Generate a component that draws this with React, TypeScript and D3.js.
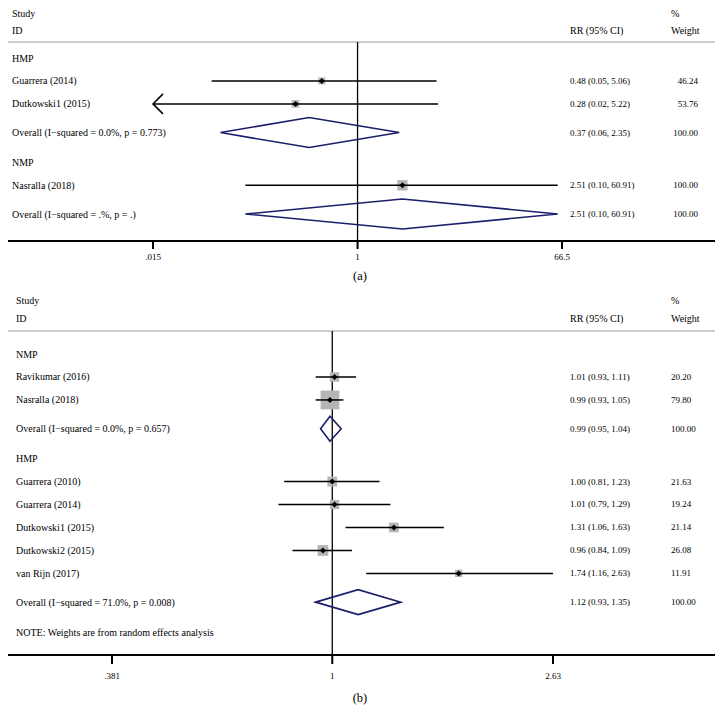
import React from "react";
import * as d3 from "d3";

// ---------- Panel (a) data ----------
const labelsA = [
  "HMP",
  "Guarrera (2014)",
  "Dutkowski1 (2015)",
  "Overall (I\u2212squared = 0.0%, p = 0.773)",
  "NMP",
  "Nasralla (2018)",
  "Overall (I\u2212squared = .%, p = .)",
];
const typesA = ["group", "study", "study", "overall", "group", "study", "overall"];
const estA = [null, 0.48, 0.28, 0.37, null, 2.51, 2.51];
const lowA = [null, 0.05, 0.015, 0.06, null, 0.1, 0.1];
const highA = [null, 5.06, 5.22, 2.35, null, 60.91, 60.91];
const ciTextA = [
  "",
  "0.48 (0.05, 5.06)",
  "0.28 (0.02, 5.22)",
  "0.37 (0.06, 2.35)",
  "",
  "2.51 (0.10, 60.91)",
  "2.51 (0.10, 60.91)",
];
const weightA = [null, 46.24, 53.76, 100.0, null, 100.0, 100.0];
const tickValsA = [0.015, 1, 66.5];
const tickLabelsA = [".015", "1", "66.5"];

// ---------- Panel (b) data ----------
const labelsB = [
  "NMP",
  "Ravikumar (2016)",
  "Nasralla (2018)",
  "Overall (I\u2212squared = 0.0%, p = 0.657)",
  "HMP",
  "Guarrera (2010)",
  "Guarrera (2014)",
  "Dutkowski1 (2015)",
  "Dutkowski2 (2015)",
  "van Rijn (2017)",
  "Overall (I\u2212squared = 71.0%, p = 0.008)",
  "NOTE: Weights are from random effects analysis",
];
const typesB = [
  "group", "study", "study", "overall", "group", "study", "study", "study", "study", "study", "overall", "note",
];
const estB = [null, 1.01, 0.99, 0.99, null, 1.0, 1.01, 1.31, 0.96, 1.74, 1.12, null];
const lowB = [null, 0.93, 0.93, 0.95, null, 0.81, 0.79, 1.06, 0.84, 1.16, 0.93, null];
const highB = [null, 1.11, 1.05, 1.04, null, 1.23, 1.29, 1.63, 1.09, 2.63, 1.35, null];
const ciTextB = [
  "",
  "1.01 (0.93, 1.11)",
  "0.99 (0.93, 1.05)",
  "0.99 (0.95, 1.04)",
  "",
  "1.00 (0.81, 1.23)",
  "1.01 (0.79, 1.29)",
  "1.31 (1.06, 1.63)",
  "0.96 (0.84, 1.09)",
  "1.74 (1.16, 2.63)",
  "1.12 (0.93, 1.35)",
  "",
];
const weightB = [null, 20.2, 79.8, 100.0, null, 21.63, 19.24, 21.14, 26.08, 11.91, 100.0, null];
const tickValsB = [0.381, 1, 2.63];
const tickLabelsB = [".381", "1", "2.63"];

const SERIF = "'Liberation Serif', 'Times New Roman', serif";
const NAVY = "#1b1f6b";
const BOX = "#b5b5b5";

type PanelCfg = {
  labels: string[];
  types: string[];
  est: (number | null)[];
  low: (number | null)[];
  high: (number | null)[];
  ciText: string[];
  weight: (number | null)[];
  tickVals: number[];
  tickLabels: string[];
  title: string;
  headerStudyY: number;
  headerIdY: number;
  headerLineY: number;
  firstRowY: number;
  lastRowY: number;
  axisY: number;
  tickLen: number;
  tickLabelDy: number;
  titleDy: number;
  labelX: number;
  xRange: [number, number];
  weightX: number;
  weightAnchor: "start" | "end";
  boxK: number;
  diamondHalf: number;
};

function Panel(p: PanelCfg) {
  const x = d3
    .scaleLog()
    .domain([p.tickVals[0], p.tickVals[p.tickVals.length - 1]])
    .range(p.xRange);
  const [dmin] = x.domain();

  // row units: extra spacing around overall rows
  const units: number[] = [];
  p.types.forEach((t, i) => {
    if (i === 0) units.push(0);
    else {
      const gap = t === "overall" ? 1.25 : p.types[i - 1] === "overall" ? 1.3 : 1;
      units.push(units[i - 1] + gap);
    }
  });
  const y = d3
    .scaleLinear()
    .domain([0, units[units.length - 1]])
    .range([p.firstRowY, p.lastRowY]);

  const axisLeft = 8;
  const axisRight = 715;
  const rrX = 570;
  const x1 = x(1);

  return (
    <g>
      {/* headers */}
      <text x={p.labelX} y={p.headerStudyY} fontSize={10} dominantBaseline="central">Study</text>
      <text x={p.labelX} y={p.headerIdY} fontSize={10} dominantBaseline="central">ID</text>
      <text x={rrX} y={p.headerIdY} fontSize={10} dominantBaseline="central">RR (95% CI)</text>
      <text x={671} y={p.headerStudyY} fontSize={10} dominantBaseline="central">%</text>
      <text x={671} y={p.headerIdY} fontSize={10} dominantBaseline="central">Weight</text>
      <line x1={axisLeft} x2={axisRight} y1={p.headerLineY} y2={p.headerLineY} stroke="#bdbdbd" strokeWidth={1.6} />

      {/* null line */}
      <line x1={x1} x2={x1} y1={p.headerLineY} y2={p.axisY} stroke="#000" strokeWidth={1.3} />

      {/* rows */}
      {p.labels.map((lab, i) => {
        const yy = y(units[i]);
        const t = p.types[i];
        const e = p.est[i];
        const lo = p.low[i];
        const hi = p.high[i];
        const w = p.weight[i];
        const items: React.ReactNode[] = [];
        items.push(
          <text key="l" x={p.labelX} y={yy} fontSize={10} dominantBaseline="central">{lab}</text>
        );
        if (t === "study" && e != null && lo != null && hi != null && w != null) {
          const s = p.boxK * Math.sqrt(w);
          const xl = x(Math.max(lo, dmin));
          const xh = x(hi);
          const xe = x(e);
          items.push(
            <rect key="b" x={xe - s / 2} y={yy - s / 2} width={s} height={s} fill={BOX} />
          );
          items.push(
            <line key="ci" x1={xl} x2={xh} y1={yy} y2={yy} stroke="#000" strokeWidth={1.5} />
          );
          if (lo <= dmin) {
            items.push(
              <path
                key="ar"
                d={`M${xl + 10},${yy - 10} L${xl},${yy} L${xl + 10},${yy + 10}`}
                fill="none"
                stroke="#000"
                strokeWidth={1.5}
              />
            );
          }
          items.push(
            <path
              key="pt"
              d={`M${xe - 3},${yy} L${xe},${yy - 3} L${xe + 3},${yy} L${xe},${yy + 3} Z`}
              fill="#000"
            />
          );
        }
        if (t === "overall" && e != null && lo != null && hi != null) {
          const h = p.diamondHalf;
          items.push(
            <path
              key="d"
              d={`M${x(lo)},${yy} L${x(e)},${yy - h} L${x(hi)},${yy} L${x(e)},${yy + h} Z`}
              fill="none"
              stroke={NAVY}
              strokeWidth={1.6}
              strokeLinejoin="miter"
            />
          );
        }
        if (p.ciText[i]) {
          items.push(
            <text key="ci" x={rrX} y={yy} fontSize={9} dominantBaseline="central">{p.ciText[i]}</text>
          );
        }
        if (w != null) {
          items.push(
            <text key="w" x={p.weightX} y={yy} fontSize={9} textAnchor={p.weightAnchor} dominantBaseline="central">
              {w.toFixed(2)}
            </text>
          );
        }
        return <g key={i}>{items}</g>;
      })}

      {/* axis */}
      <line x1={axisLeft} x2={axisRight} y1={p.axisY} y2={p.axisY} stroke="#000" strokeWidth={2} />
      {p.tickVals.map((v, i) => (
        <g key={i}>
          <line x1={x(v)} x2={x(v)} y1={p.axisY} y2={p.axisY + p.tickLen} stroke="#000" strokeWidth={2} />
          <text x={x(v)} y={p.axisY + p.tickLabelDy} fontSize={9} textAnchor="middle" dominantBaseline="central">
            {p.tickLabels[i]}
          </text>
        </g>
      ))}
      <text x={360} y={p.axisY + p.titleDy} fontSize={12.5} textAnchor="middle" dominantBaseline="central">
        {p.title}
      </text>
    </g>
  );
}

export default function App() {
  return (
    <svg
      width={724}
      height={724}
      viewBox="0 0 724 724"
      style={{ position: "absolute", left: 0, top: 0, background: "#fff", fontFamily: SERIF }}
    >
      <rect width={724} height={724} fill="#fff" />
      <Panel
        labels={labelsA}
        types={typesA}
        est={estA}
        low={lowA}
        high={highA}
        ciText={ciTextA}
        weight={weightA}
        tickVals={tickValsA}
        tickLabels={tickLabelsA}
        title="(a)"
        headerStudyY={13}
        headerIdY={30}
        headerLineY={42}
        firstRowY={58}
        lastRowY={214}
        axisY={241}
        tickLen={8}
        tickLabelDy={16}
        titleDy={35}
        labelX={12}
        xRange={[153, 562]}
        weightX={698}
        weightAnchor="end"
        boxK={1.03}
        diamondHalf={15}
      />
      <Panel
        labels={labelsB}
        types={typesB}
        est={estB}
        low={lowB}
        high={highB}
        ciText={ciTextB}
        weight={weightB}
        tickVals={tickValsB}
        tickLabels={tickLabelsB}
        title="(b)"
        headerStudyY={300}
        headerIdY={318}
        headerLineY={331}
        firstRowY={354}
        lastRowY={632}
        axisY={655}
        tickLen={9}
        tickLabelDy={21}
        titleDy={43}
        labelX={16}
        xRange={[112, 553]}
        weightX={671}
        weightAnchor="start"
        boxK={2.1}
        diamondHalf={12.5}
      />
    </svg>
  );
}
